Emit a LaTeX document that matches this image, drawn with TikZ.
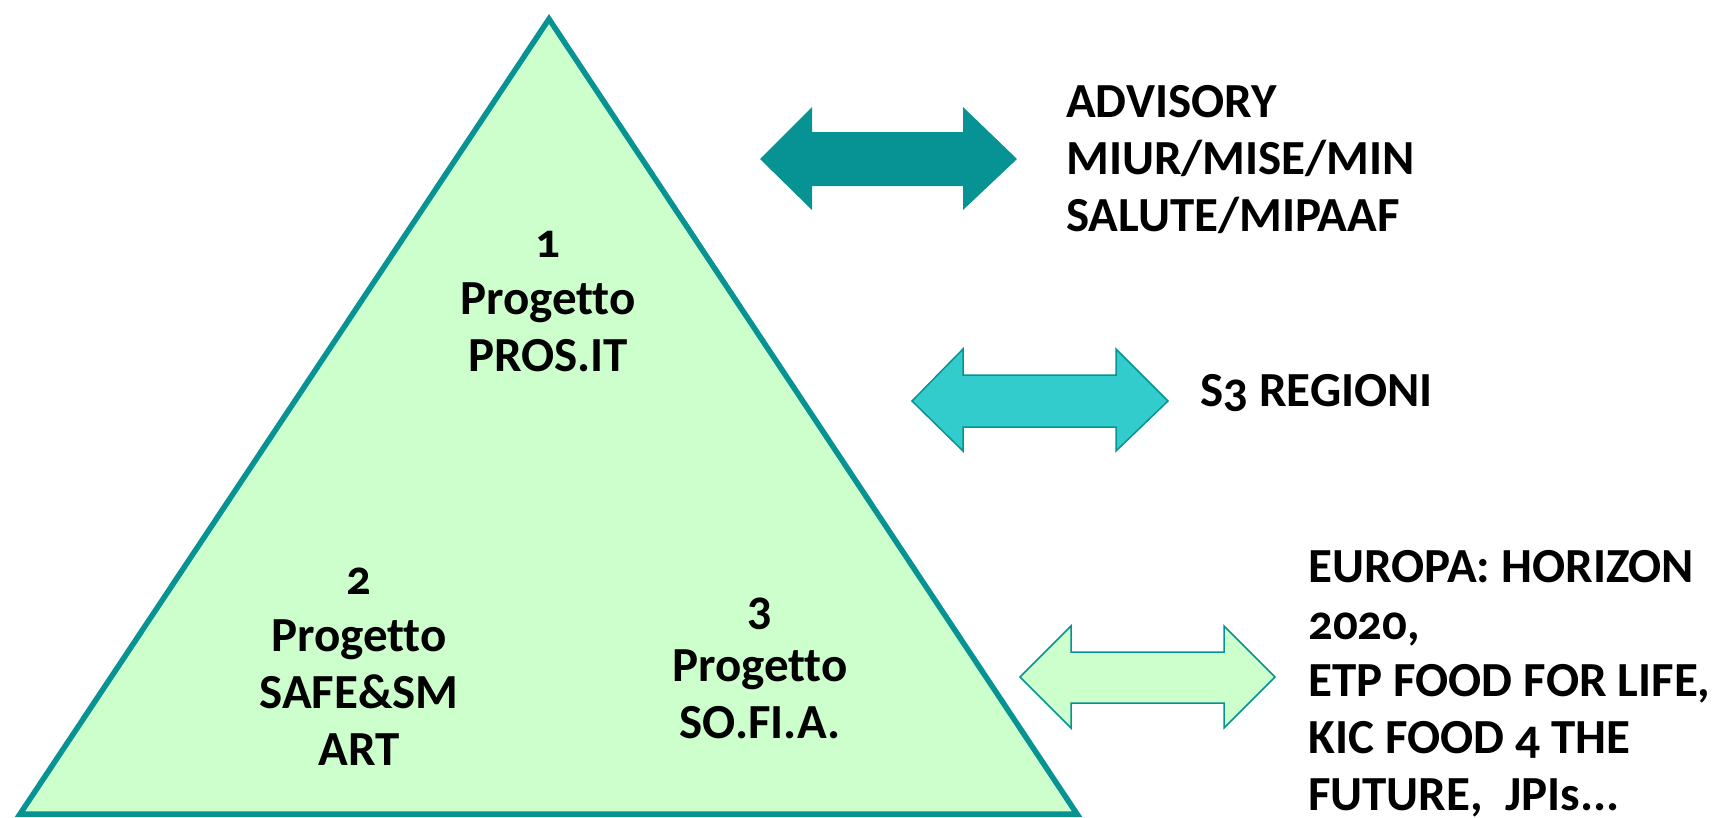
\documentclass[tikz,border=0pt]{standalone}
\usepackage{fontspec}
\setmainfont{Carlito}[Numbers=OldStyle, Ligatures=NoCommon]
\definecolor{rimteal}{HTML}{079393}
\definecolor{midteal}{HTML}{33CCCC}
\definecolor{palegreen}{HTML}{CCFFCC}

\begin{document}
\begin{tikzpicture}[
    x=1pt, y=-1pt,
    % Style for the bold labels
    lbl/.style={font=\fontsize{49}{57}\selectfont\bfseries, inner sep=0pt},
    % Styles for the fat double arrows
    arrow dark/.style={fill=rimteal, draw=none},
    arrow mid/.style={fill=midteal, draw=rimteal, line width=1.5pt, line join=miter},
    arrow pale/.style={fill=palegreen, draw=rimteal, line width=1.5pt, line join=miter}
]
    \useasboundingbox (0,0) rectangle (1727,817);

    % --- 1. Pyramid ---
    \coordinate (top) at (549,19);
    \coordinate (left) at (20,814);
    \coordinate (right) at (1077,814);
    \draw[fill=palegreen, draw=rimteal, line width=5.5pt, line join=miter]
        (top) -- (left) -- (right) -- cycle;

    % --- 2. Labels inside the pyramid ---
    \node[lbl, align=center] (p1) at (548,302) {1\\Progetto\\PROS.IT};
    \node[lbl, align=center] (p2) at (359,667) {2\\Progetto\\SAFE\&SM\\ART};
    \node[lbl, align=center] (p3) at (760,668) {3\\Progetto\\SO.FI.A.};

    % --- 3. Double arrows ---
    \draw[arrow dark] (760,159) -- (812,107) -- (812,132) -- (963,132) -- (963,107)
        -- (1017,159) -- (963,210) -- (963,186) -- (812,186) -- (812,210) -- cycle;
    \draw[arrow mid] (912,401) -- (963,349) -- (963,375) -- (1116,375) -- (1116,349)
        -- (1168,401) -- (1116,451) -- (1116,427) -- (963,427) -- (963,451) -- cycle;
    \draw[arrow pale] (1020,677) -- (1071,626) -- (1071,652) -- (1224,652) -- (1224,626)
        -- (1275,677) -- (1224,728) -- (1224,703) -- (1071,703) -- (1071,728) -- cycle;

    % --- 4. Labels on the right ---
    \node[lbl, align=left, anchor=west] (advisory) at (1066,160)
        {ADVISORY\\MIUR/MISE/MIN\\SALUTE/MIPAAF};
    \node[lbl, align=left, anchor=west] (regioni) at (1200,393) {S3 REGIONI};
    \node[lbl, align=left, anchor=west] (europa) at (1308,684)
        {EUROPA: HORIZON\\2020,\\ETP FOOD FOR LIFE,\\KIC FOOD 4 THE\\FUTURE,~ JPIs...};

\end{tikzpicture}
\end{document}
